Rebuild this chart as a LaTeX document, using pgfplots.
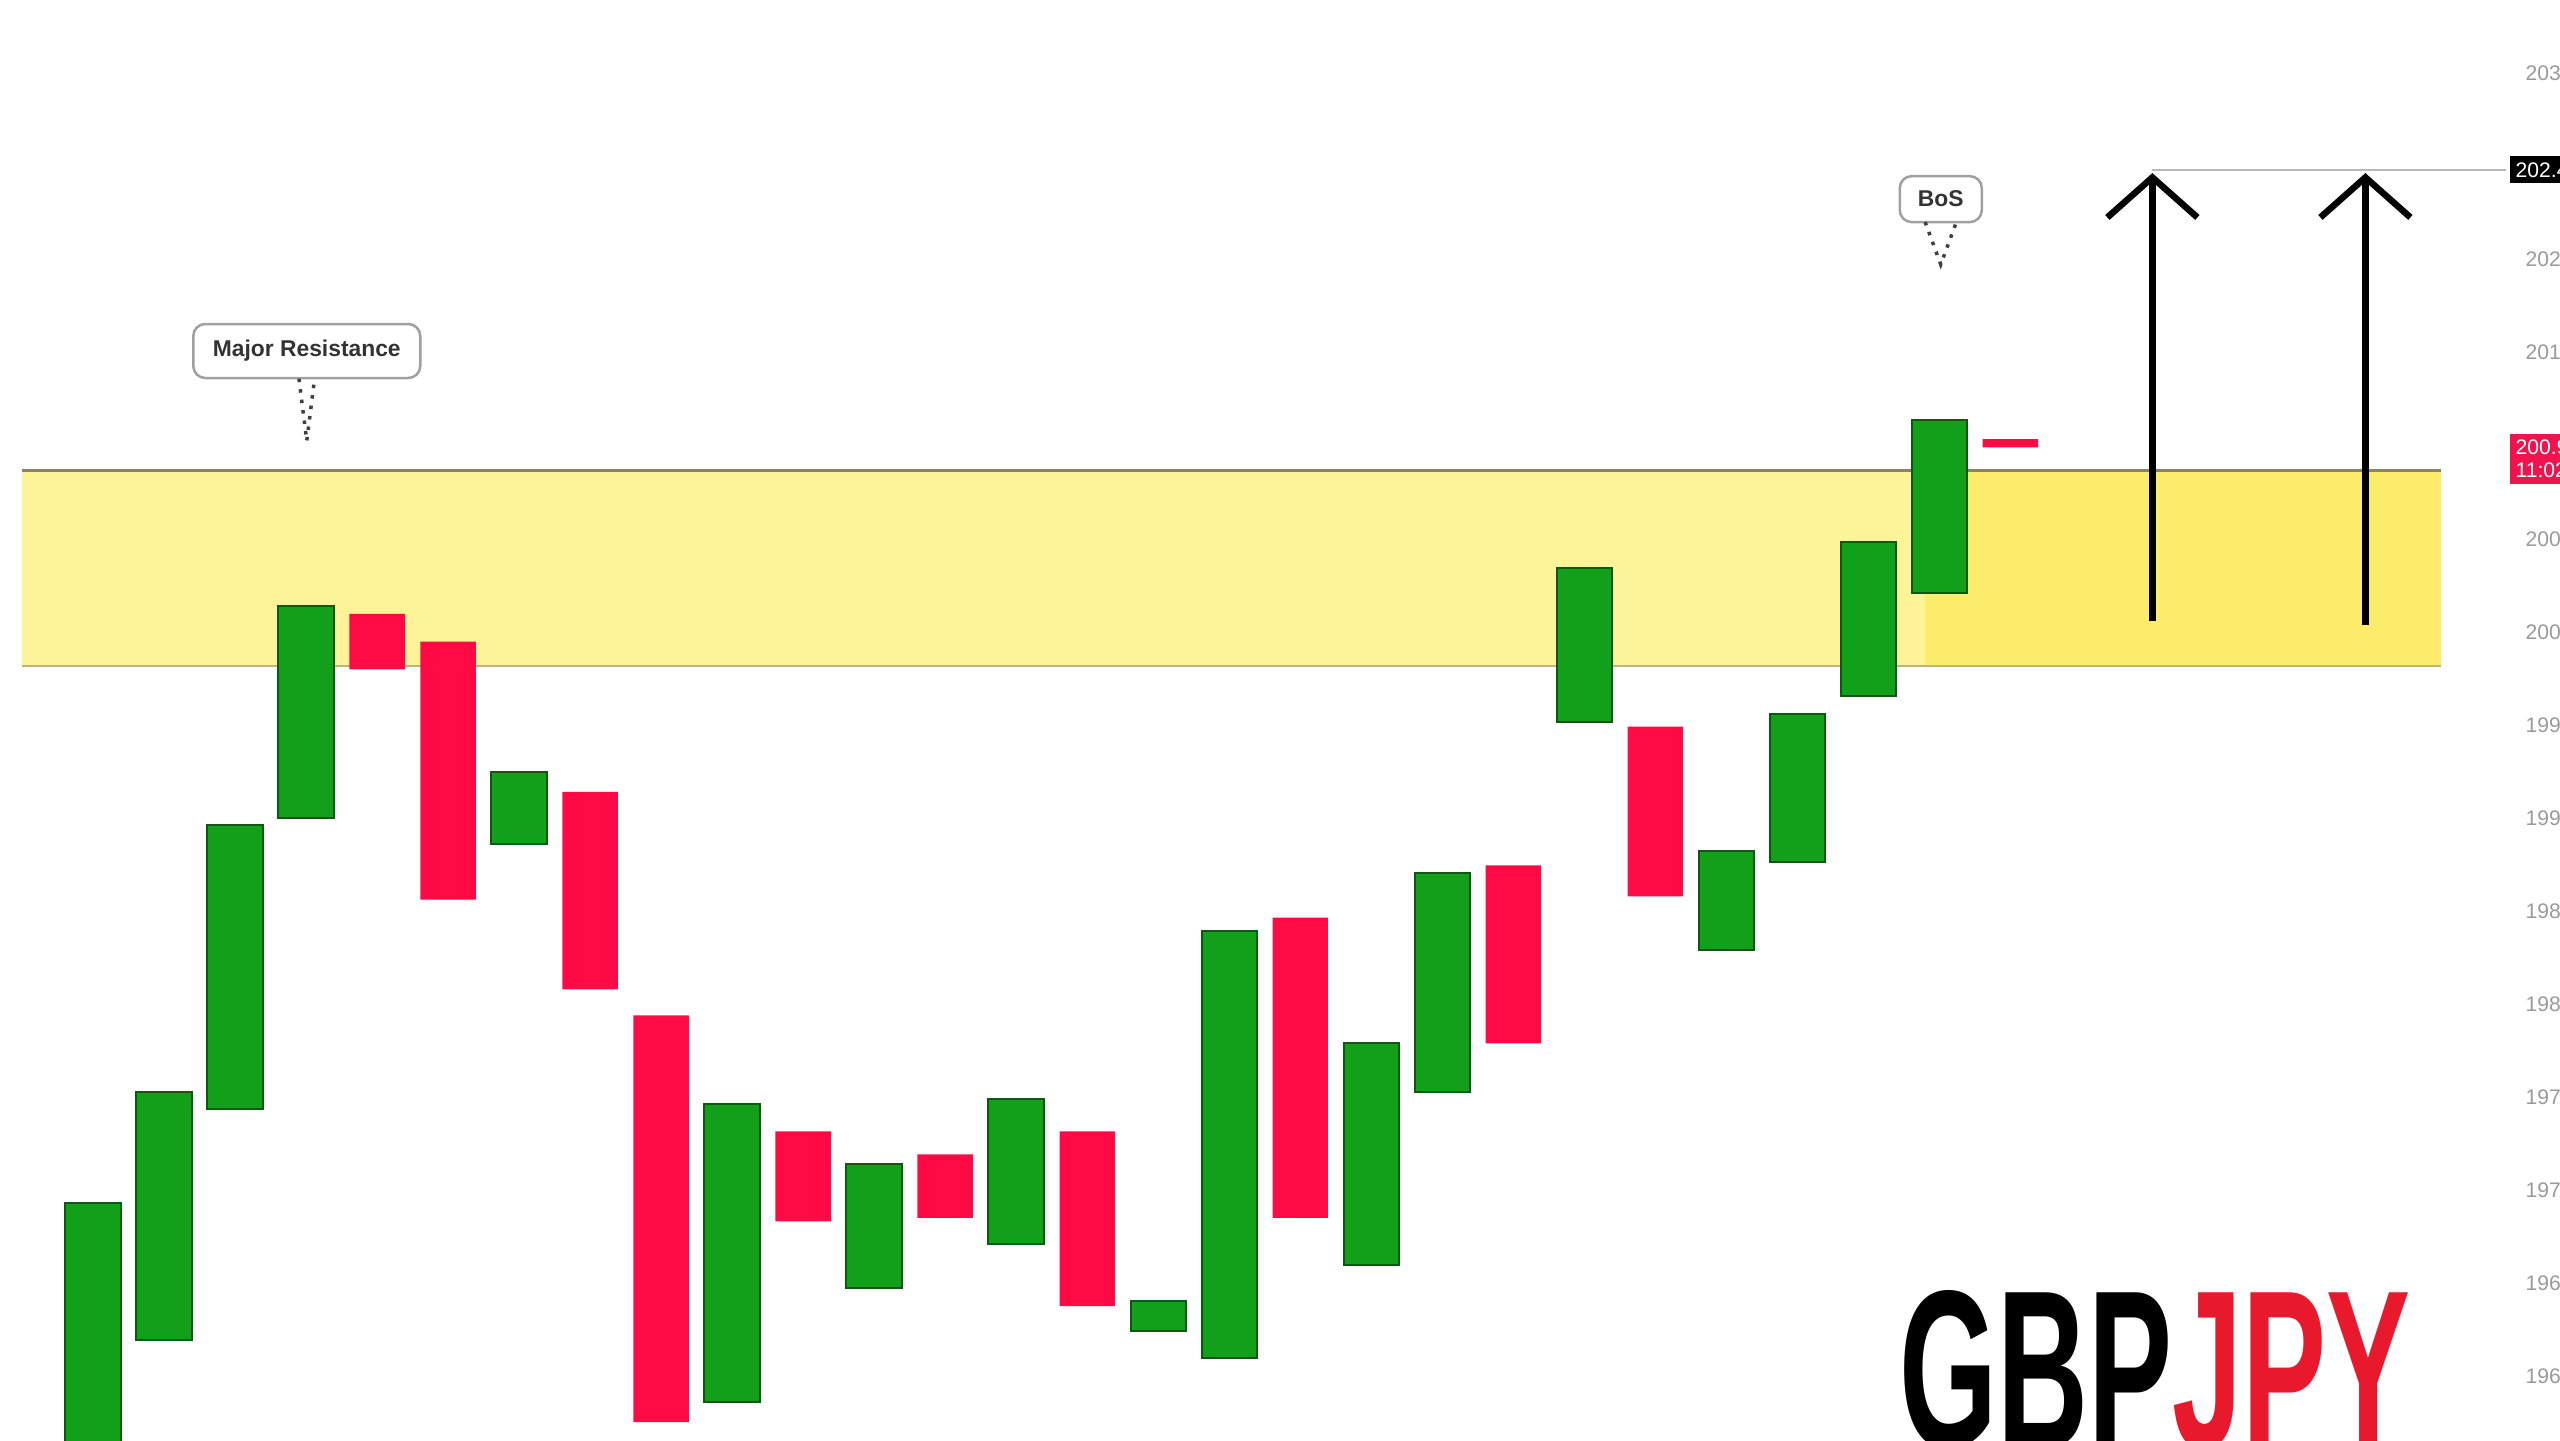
\documentclass[border=0pt]{standalone}
\usepackage{fontspec}
\setmainfont{Liberation Sans}
\usepackage{pgfplots}
\pgfplotsset{compat=1.18}
\usepackage{pgfplotstable}
\usetikzlibrary{arrows.meta}

\definecolor{cgreen}{HTML}{12A01A}
\definecolor{cgreenedge}{HTML}{0C5A10}
\definecolor{cred}{HTML}{FF0A45}
\definecolor{zonelight}{HTML}{FFF39A}
\definecolor{zonedark}{HTML}{FDEC6A}
\definecolor{zonetop}{HTML}{8A8462}
\definecolor{zonebot}{HTML}{BDB478}
\definecolor{tickgrey}{HTML}{9A9A9A}
\definecolor{boxgrey}{HTML}{A0A0A0}
\definecolor{labelred}{HTML}{F0134D}
\definecolor{jpyred}{HTML}{E8192C}

% candle bodies: index, low end, high end of the body
\pgfplotstableread{
i lo hi
1 195.500 196.930
2 196.193 197.526
3 197.439 198.965
4 199.000 200.140
7 198.860 199.246
10 195.860 197.465
12 196.474 197.140
14 196.711 197.491
16 196.246 196.404
17 196.096 198.395
19 196.596 197.789
20 197.526 198.702
22 199.518 200.342
24 198.289 198.825
25 198.763 199.561
26 199.658 200.482
27 200.211 201.140
}\greencandles

\pgfplotstableread{
i lo hi
5 199.798 200.096
6 198.561 199.947
8 198.079 199.140
9 195.754 197.939
11 196.833 197.316
13 196.851 197.193
15 196.377 197.316
18 196.851 198.465
21 197.789 198.746
23 198.579 199.491
28 200.991 201.035
}\redcandles

\pgfplotsset{
  chartframe/.style={
    scale only axis, width=25.06cm, height=14.4cm,
    xmin=-0.31, xmax=34.98, ymin=195.658, ymax=203.395,
  },
}

\begin{document}
\begin{tikzpicture}
% zone, price scale and annotations
\begin{axis}[
  chartframe, clip=false,
  axis line style={draw=none}, major tick length=0pt,
  xtick=\empty,
  ytick={196,196.5,197,197.5,198,198.5,199,199.5,200,200.5,201.5,202,203},
  yticklabel pos=right,
  yticklabel style={font=\fontsize{6}{7}\selectfont, text=tickgrey,
    anchor=west, inner sep=0pt, xshift=1.9mm,
    /pgf/number format/fixed, /pgf/number format/fixed zerofill,
    /pgf/number format/precision=3, /pgf/number format/assume math mode=true},
]
\addplot[fill=zonelight, draw=none] coordinates {(0,199.816) (34.06,199.816) (34.06,200.868) (0,200.868)} -- cycle;
\addplot[fill=zonedark, draw=none] coordinates {(26.8,199.816) (34.06,199.816) (34.06,200.868) (26.8,200.868)} -- cycle;
\addplot[draw=zonetop, line width=0.25mm] coordinates {(0,200.868) (34.06,200.868)};
\addplot[draw=zonebot, line width=0.2mm] coordinates {(0,199.816) (34.06,199.816)};

% target line and arrows
\addplot[draw=gray!55, line width=0.15mm] coordinates {(30,202.482) (34.98,202.482)};
\addplot[black, line width=0.65mm, -{Straight Barb[length=4mm,width=9mm]}] coordinates {(30,200.061) (30,202.465)};
\addplot[black, line width=0.65mm, -{Straight Barb[length=4mm,width=9mm]}] coordinates {(33,200.035) (33,202.465)};

% price labels on the scale
\node[anchor=west, fill=black, text=white, inner sep=0.6mm, minimum height=2.6mm,
  font=\fontsize{6}{7}\selectfont] at (axis cs:34.98,202.482) [xshift=0.3mm] {202.480};
\node[anchor=west, fill=labelred, text=white, inner sep=0.6mm, minimum height=5mm,
  align=left, font=\fontsize{6}{6.5}\selectfont] at (axis cs:34.98,200.93) [xshift=0.3mm] {200.990\\11:02:15};

% callouts
\node[draw=boxgrey, line width=0.25mm, rounded corners=1.2mm, fill=white,
  minimum width=22.7mm, minimum height=5.4mm, inner sep=0.5mm, text=black!80,
  font=\fontsize{6.5}{7}\selectfont\bfseries] at (axis cs:4.01,201.509) {Major Resistance};
\draw[dotted, line width=0.35mm, black!75] (axis cs:3.90,201.360) -- (axis cs:4.01,201.026) -- (axis cs:4.12,201.360);

\node[draw=boxgrey, line width=0.25mm, rounded corners=1.2mm, fill=white,
  minimum width=8.2mm, minimum height=4.6mm, inner sep=0.5mm, text=black!80,
  font=\fontsize{6.5}{7}\selectfont\bfseries] at (axis cs:27.02,202.325) {BoS};
\draw[dotted, line width=0.35mm, black!75] (axis cs:26.80,202.202) -- (axis cs:27.02,201.974) -- (axis cs:27.24,202.202);

% pair name
\node[anchor=north west, inner sep=0pt, font=\fontsize{64}{64}\selectfont\bfseries]
  at (axis cs:26.43,196.465) {\scalebox{0.56}[1]{GBP\textcolor{jpyred}{JPY}}};
\end{axis}

% green bodies
\begin{axis}[chartframe, hide axis, ybar stacked, bar width=0.78]
\addplot[draw=none, fill=none] table[x=i, y=lo] {\greencandles};
\addplot[fill=cgreen, draw=cgreenedge, line width=0.2mm] table[x=i, y expr=\thisrow{hi}-\thisrow{lo}] {\greencandles};
\end{axis}

% red bodies
\begin{axis}[chartframe, hide axis, ybar stacked, bar width=0.78]
\addplot[draw=none, fill=none] table[x=i, y=lo] {\redcandles};
\addplot[fill=cred, draw=none] table[x=i, y expr=\thisrow{hi}-\thisrow{lo}] {\redcandles};
\end{axis}

\pgfresetboundingbox
\useasboundingbox (0,0) rectangle (25.6cm,14.4cm);
\end{tikzpicture}
\end{document}
